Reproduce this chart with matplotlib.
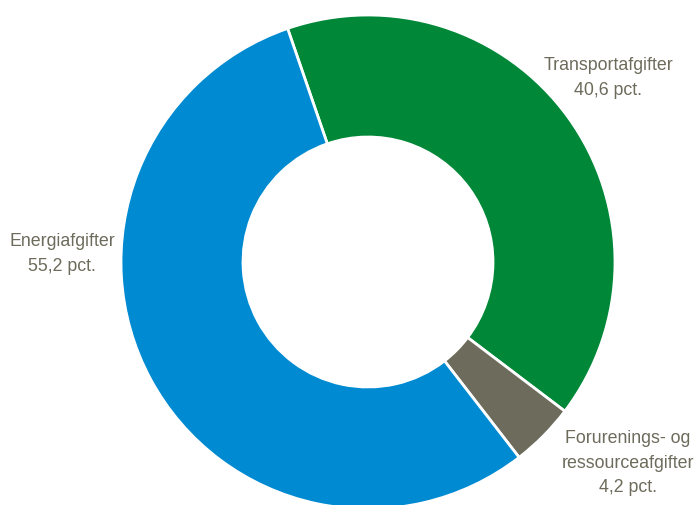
import matplotlib
matplotlib.use("Agg")
import matplotlib.pyplot as plt

categories = ["Transportafgifter", "Forurenings- og\nressourceafgifter", "Energiafgifter"]
values = [40.6, 4.2, 55.2]
value_labels = ["40,6 pct.", "4,2 pct.", "55,2 pct."]
colors = ["#008838", "#6d6b5b", "#008ad2"]
text_color = "#6d6b5b"

plt.rcParams['font.family'] = ['Liberation Sans Narrow', 'Liberation Sans', 'DejaVu Sans']

fig = plt.figure(figsize=(6.96, 5.05), dpi=100)
ax = fig.add_axes([0, 0, 1, 1])
ax.set_xlim(0, 696)
ax.set_ylim(0, 505)
ax.set_aspect('equal')
ax.axis('off')

cx, cy, R = 368, 505 - 262, 247
ax.pie(values, colors=colors, startangle=109, counterclock=False,
       center=(cx, cy), radius=R,
       wedgeprops=dict(width=122, edgecolor='white', linewidth=2))
ax.set_xlim(0, 696)
ax.set_ylim(0, 505)

label_pos = [(608, 505 - 78), (628, 505 - 463), (62, 505 - 254)]
for cat, vl, (x, y) in zip(categories, value_labels, label_pos):
    ax.text(x, y, f"{cat}\n{vl}", ha='center', va='center', fontsize=12.8,
            color=text_color, linespacing=1.55)

fig.savefig("out.png", dpi=100)
